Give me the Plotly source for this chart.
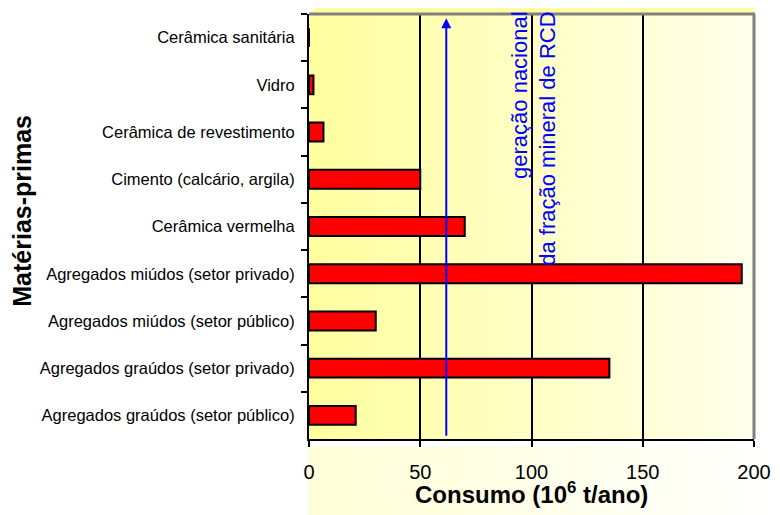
import plotly.graph_objects as go

categorias = [
    "Cerâmica sanitária",
    "Vidro",
    "Cerâmica de revestimento",
    "Cimento (calcário, argila)",
    "Cerâmica vermelha",
    "Agregados miúdos (setor privado)",
    "Agregados miúdos (setor público)",
    "Agregados graúdos (setor privado)",
    "Agregados graúdos (setor público)",
]
consumo = [0, 2, 6.5, 50, 70, 194.5, 30, 135, 21]
geracao_rcd = 61.7
x_ticks = [0, 50, 100, 150, 200]

FONT = "Liberation Sans, Arial, sans-serif"

fig = go.Figure()
fig.add_trace(
    go.Bar(
        x=consumo,
        y=categorias,
        orientation="h",
        width=0.4,
        marker={"color": "#ff0000", "line": {"color": "black", "width": 2}},
        showlegend=False,
        hoverinfo="x+y",
    )
)


def blend(c0, c1, t):
    return "rgb(%d,%d,%d)" % tuple(round(a + (b - a) * t) for a, b in zip(c0, c1))


# yellow wall gradient behind the bars
shapes = []
n = 40
for i in range(n):
    t = i / (n - 1)
    shapes.append(dict(
        type="rect", xref="x domain", yref="y domain", layer="below",
        x0=i / n, x1=(i + 1) / n + 0.002, y0=0, y1=1,
        fillcolor=blend((255, 255, 160), (255, 255, 236), t), line={"width": 0},
    ))
# pale floor below the axis
for i in range(n):
    t = i / (n - 1)
    shapes.append(dict(
        type="rect", xref="x domain", yref="y domain", layer="below",
        x0=i / n * 1.02, x1=(i + 1) / n * 1.02 + 0.002, y0=-0.018, y1=-0.19,
        fillcolor=blend((255, 255, 215), (255, 255, 252), t), line={"width": 0},
    ))
# 3D top face
shapes.append(dict(
    type="path", xref="x domain", yref="y domain", layer="below",
    path="M 0 1 L 0.027 1.026 L 1.002 1.026 L 1.002 1 Z",
    fillcolor="rgb(255,255,160)", line={"width": 0},
))
# grey frame (top and right)
shapes.append(dict(type="line", xref="x domain", yref="y domain",
                   x0=0, x1=1.002, y0=1, y1=1, line={"color": "#808080", "width": 3}))
shapes.append(dict(type="line", xref="x domain", yref="y domain",
                   x0=1, x1=1, y0=0, y1=1, line={"color": "#808080", "width": 3}))

# the page body adds an 8px offset, so the figure is 8px smaller
fig.update_layout(
    width=772,
    height=507,
    margin={"l": 301, "r": 26, "t": 6, "b": 76, "autoexpand": False},
    paper_bgcolor="white",
    plot_bgcolor="rgba(0,0,0,0)",
    font={"family": FONT, "color": "black"},
    shapes=shapes,
)

fig.update_xaxes(
    range=[0, 200],
    tickvals=x_ticks,
    showgrid=True,
    gridcolor="black",
    gridwidth=2,
    showline=True,
    linecolor="black",
    linewidth=2,
    ticks="outside",
    ticklen=6,
    tickwidth=2,
    tickcolor="black",
    tickfont={"size": 20, "color": "black"},
    ticklabelstandoff=8,
    zeroline=False,
    automargin=False,
)
fig.update_yaxes(
    categoryorder="array",
    categoryarray=categorias,
    autorange="reversed",
    tickson="boundaries",
    showline=True,
    linecolor="black",
    linewidth=2,
    ticks="outside",
    ticklen=6,
    tickwidth=2,
    tickcolor="black",
    tickfont={"size": 16.5, "color": "black"},
    ticklabelstandoff=9,
    showgrid=False,
    automargin=False,
)

fig.add_annotation(
    x=geracao_rcd, y=0.99, xref="x", yref="y domain",
    ax=geracao_rcd, ay=0.004, axref="x", ayref="y domain",
    text="", showarrow=True, arrowhead=2, arrowsize=1, arrowwidth=2,
    arrowcolor="#0000ff",
)
fig.add_annotation(
    x=101, y=1.0094, xref="x", yref="y domain",
    text="geração nacional<br>da fração mineral de RCD",
    textangle=-90, showarrow=False, xanchor="center", yanchor="top",
    align="right", font={"size": 22, "color": "#0000ff", "family": FONT},
)
fig.add_annotation(
    x=-0.645, y=0.537, xref="x domain", yref="y domain",
    xanchor="center", yanchor="middle",
    text="<b>Matérias-primas</b>", textangle=-90, showarrow=False,
    font={"size": 25, "color": "black", "family": FONT},
)
fig.add_annotation(
    x=0.5, y=-0.127, xref="x domain", yref="y domain",
    xanchor="center", yanchor="middle",
    text="<b>Consumo (10<sup>6</sup> t/ano)</b>", showarrow=False,
    font={"size": 24, "color": "black", "family": FONT},
)

fig.write_html("out.html")
